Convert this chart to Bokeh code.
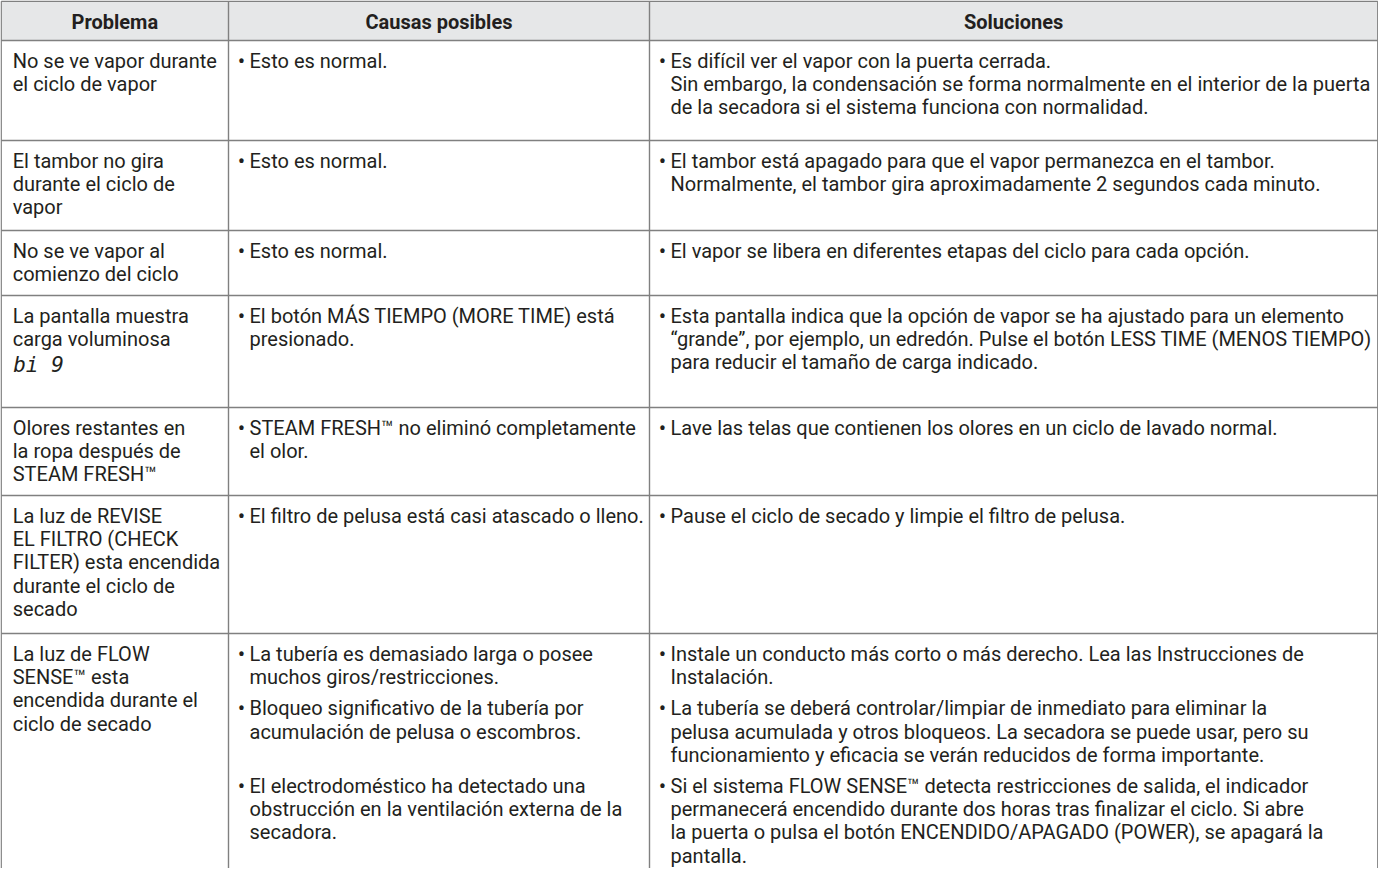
from bokeh.plotting import figure
from bokeh.models import Range1d, ColumnDataSource
from bokeh.core.properties import value
from bokeh.embed import file_html
from bokeh.resources import INLINE

# ---------------- data ----------------
headers = ["Problema", "Causas posibles", "Soluciones"]

problems = [
    ["No se ve vapor durante", "el ciclo de vapor"],
    ["El tambor no gira", "durante el ciclo de", "vapor"],
    ["No se ve vapor al", "comienzo del ciclo"],
    ["La pantalla muestra", "carga voluminosa"],
    ["Olores restantes en", "la ropa después de", "STEAM FRESH™"],
    ["La luz de REVISE", "EL FILTRO (CHECK", "FILTER) esta encendida", "durante el ciclo de", "secado"],
    ["La luz de FLOW", "SENSE™ esta", "encendida durante el", "ciclo de secado"],
]
display_code = "bi 9"   # seven-segment "big" indicator shown under row 4

causes = [
    [["Esto es normal."]],
    [["Esto es normal."]],
    [["Esto es normal."]],
    [["El botón MÁS TIEMPO (MORE TIME) está", "presionado."]],
    [["STEAM FRESH™ no eliminó completamente", "el olor."]],
    [["El filtro de pelusa está casi atascado o lleno."]],
    [["La tubería es demasiado larga o posee", "muchos giros/restricciones."],
     ["Bloqueo significativo de la tubería por", "acumulación de pelusa o escombros."],
     ["El electrodoméstico ha detectado una", "obstrucción en la ventilación externa de la", "secadora."]],
]

solutions = [
    [["Es difícil ver el vapor con la puerta cerrada.",
      "Sin embargo, la condensación se forma normalmente en el interior de la puerta",
      "de la secadora si el sistema funciona con normalidad."]],
    [["El tambor está apagado para que el vapor permanezca en el tambor.",
      "Normalmente, el tambor gira aproximadamente 2 segundos cada minuto."]],
    [["El vapor se libera en diferentes etapas del ciclo para cada opción."]],
    [["Esta pantalla indica que la opción de vapor se ha ajustado para un elemento",
      "“grande”, por ejemplo, un edredón. Pulse el botón LESS TIME (MENOS TIEMPO)",
      "para reducir el tamaño de carga indicado."]],
    [["Lave las telas que contienen los olores en un ciclo de lavado normal."]],
    [["Pause el ciclo de secado y limpie el filtro de pelusa."]],
    [["Instale un conducto más corto o más derecho. Lea las Instrucciones de",
      "Instalación."],
     ["La tubería se deberá controlar/limpiar de inmediato para eliminar la",
      "pelusa acumulada y otros bloqueos. La secadora se puede usar, pero su",
      "funcionamiento y eficacia se verán reducidos de forma importante."],
     ["Si el sistema FLOW SENSE™ detecta restricciones de salida, el indicador",
      "permanecerá encendido durante dos horas tras finalizar el ciclo. Si abre",
      "la puerta o pulsa el botón ENCENDIDO/APAGADO (POWER), se apagará la",
      "pantalla."]],
]

# ---------------- layout (page pixel coordinates) ----------------
W, H = 1378, 868
X0, X1 = 8, 8 + W
Y0, Y1 = 8, 8 + H
col_edges = [8.7, 236, 657, 1385.3]
row_edges = [8.7, 48, 148, 238, 303, 415, 503, 641]
FIRST = 20.5
LINE = 23.2
GAP = 8.0
FONT = "Roboto"
FS = "20px"
TXT = "#231f20"
GRID = "#808080"

p = figure(width=W, height=H, output_backend="svg", toolbar_location=None,
           x_range=Range1d(X0, X1), y_range=Range1d(Y1, Y0),
           min_border=0, outline_line_color=None)
p.axis.visible = False
p.grid.visible = False
p.background_fill_color = "white"

# header background
p.quad(left=[col_edges[0]], right=[col_edges[-1]], top=[row_edges[0]], bottom=[row_edges[1]],
       fill_color="#e6e7e8", line_color=None)

# header texts
hx = [(col_edges[i] + col_edges[i + 1]) / 2 for i in range(3)]
hy = [(row_edges[0] + row_edges[1]) / 2 + 1] * 3
p.text(x=hx, y=hy, text=headers, text_align="center", text_baseline="middle",
       text_font=value(FONT), text_font_size=FS, text_font_style="bold", text_color=TXT)

body_x, body_y, body_t = [], [], []
bul_x, bul_y = [], []

for r in range(len(problems)):
    top = row_edges[r + 1]
    # problem column
    for k, ln in enumerate(problems[r]):
        body_x.append(col_edges[0] + 11.5)
        body_y.append(top + FIRST + k * LINE)
        body_t.append(ln)
    # causes / solutions, bullets aligned across columns
    y = top + FIRST
    nb = max(len(causes[r]), len(solutions[r]))
    for b in range(nb):
        nlines = 0
        for c, col in ((1, causes[r]), (2, solutions[r])):
            if b < len(col):
                bul_x.append(col_edges[c] + 13)
                bul_y.append(y)
                for k, ln in enumerate(col[b]):
                    body_x.append(col_edges[c] + 21)
                    body_y.append(y + k * LINE)
                    body_t.append(ln)
                nlines = max(nlines, len(col[b]))
        y += nlines * LINE + GAP

src = ColumnDataSource(dict(x=body_x, y=body_y, t=body_t))
p.text(x="x", y="y", text="t", source=src, text_align="left", text_baseline="middle",
       text_font=value(FONT), text_font_size=FS, text_color=TXT)

p.text(x=bul_x, y=bul_y, text=["•"] * len(bul_x), text_align="center", text_baseline="middle",
       text_font=value(FONT), text_font_size="22px", text_color=TXT)

# seven-segment style indicator
p.text(x=[col_edges[0] + 12], y=[row_edges[4] + FIRST + 2 * LINE + 3], text=[display_code],
       text_align="left", text_baseline="middle", text_font=value("DejaVu Sans Mono"),
       text_font_size="21px", text_font_style="italic", text_color=TXT)

# grid lines
hx0 = [col_edges[0]] * len(row_edges)
hx1 = [col_edges[-1]] * len(row_edges)
p.segment(x0=hx0, y0=row_edges, x1=hx1, y1=row_edges, line_color=GRID, line_width=1.4)
p.segment(x0=col_edges, y0=[row_edges[0]] * 4, x1=col_edges, y1=[Y1] * 4,
          line_color=GRID, line_width=1.4)

open("out.html", "w").write(file_html(p, INLINE))
